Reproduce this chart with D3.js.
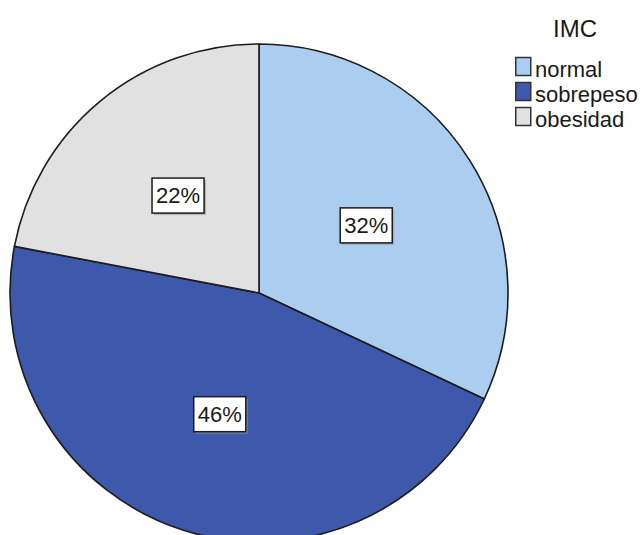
<!DOCTYPE html>
<html>
<head>
<meta charset="utf-8">
<script src="https://cdn.jsdelivr.net/npm/d3@7"></script>
<style>
  html, body { margin: 0; padding: 0; background: #fff; }
  svg { display: block; }
  text { font-family: "Liberation Sans", Arial, sans-serif; fill: #1a1a1a; }
</style>
</head>
<body>
<svg id="chart" width="643" height="535"></svg>
<script>
// IMC categories and their share of the sample (percent)
const categories = ["normal", "sobrepeso", "obesidad"];
const values = [32, 46, 22];
const colors = ["#abcdf0", "#3e58ac", "#e1e1e1"];
const legendTitle = "IMC";

const svg = d3.select("#chart");
const cx = 259, cy = 293, r = 249;

const pie = d3.pie().sort(null).value(d => d.value);
const data = categories.map((c, i) => ({ name: c, value: values[i], color: colors[i] }));
const arcs = pie(data);

const arc = d3.arc().innerRadius(0).outerRadius(r);
// centroid of this arc sits at about half the radius
const labelArc = d3.arc().innerRadius(0).outerRadius(r * 1.02);

const g = svg.append("g").attr("transform", `translate(${cx},${cy})`);

g.selectAll("path.slice")
  .data(arcs)
  .join("path")
  .attr("class", "slice")
  .attr("d", arc)
  .attr("fill", d => d.data.color)
  .attr("stroke", "#1c1c1c")
  .attr("stroke-width", 1.6)
  .attr("stroke-linejoin", "round");

// percentage labels in boxed callouts
const labels = g.selectAll("g.lab")
  .data(arcs)
  .join("g")
  .attr("class", "lab")
  .attr("transform", d => {
    const [x, y] = labelArc.centroid(d);
    return `translate(${x},${y})`;
  });

labels.append("text")
  .attr("text-anchor", "middle")
  .attr("dy", "0.36em")
  .style("font-size", "22px")
  .text(d => d.data.value + "%");

labels.each(function () {
  const grp = d3.select(this);
  const bb = grp.select("text").node().getBBox();
  const px = 4, py = 5;
  // soft drop shadow
  grp.insert("rect", "text")
    .attr("x", bb.x - px + 2).attr("y", bb.y - py + 2)
    .attr("width", bb.width + 2 * px).attr("height", bb.height + 2 * py)
    .attr("fill", "#9a9a9a").attr("opacity", 0.6);
  grp.insert("rect", "text")
    .attr("x", bb.x - px).attr("y", bb.y - py)
    .attr("width", bb.width + 2 * px).attr("height", bb.height + 2 * py)
    .attr("fill", "#ffffff").attr("stroke", "#1c1c1c").attr("stroke-width", 1.5);
});

// legend
const legend = svg.append("g").attr("transform", "translate(515,0)");
legend.append("text")
  .attr("x", 60).attr("y", 37)
  .attr("text-anchor", "middle")
  .style("font-size", "24px")
  .text(legendTitle);

const y = d3.scaleBand().domain(categories).range([55, 130]);

const items = legend.selectAll("g.item")
  .data(data)
  .join("g")
  .attr("class", "item")
  .attr("transform", d => `translate(0,${y(d.name)})`);

items.append("rect")
  .attr("x", 0.75).attr("y", 2.5)
  .attr("width", 15).attr("height", 18)
  .attr("fill", d => d.color)
  .attr("stroke", "#333")
  .attr("stroke-width", 1.5);

items.append("text")
  .attr("x", 20).attr("y", 22)
  .style("font-size", "22px")
  .text(d => d.name);
</script>
</body>
</html>
